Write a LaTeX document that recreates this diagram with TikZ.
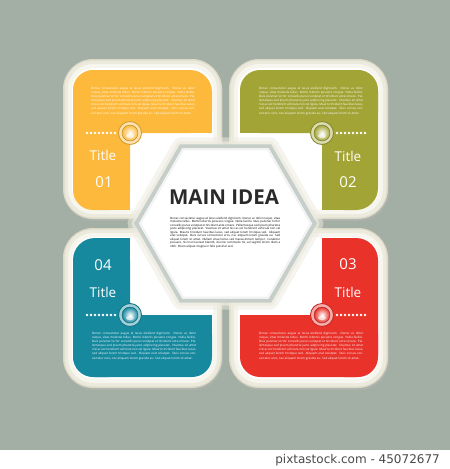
\documentclass[tikz,border=0pt]{standalone}
\usepackage{fontspec}
\setmainfont{Open Sans}
\newfontfamily\wmfont{DejaVu Sans}
\definecolor{bg}{HTML}{A3AEA4}
\definecolor{cream1}{HTML}{DCD9C7}
\definecolor{cream2}{HTML}{ECEADD}
\definecolor{cream3}{HTML}{F6F5EE}
\definecolor{cOr}{HTML}{FDB93B}
\definecolor{cOl}{HTML}{A3A436}
\definecolor{cBl}{HTML}{16899F}
\definecolor{cRe}{HTML}{E8322A}
\definecolor{hexgray}{HTML}{C5CEC8}
\definecolor{glow}{HTML}{EDEBDF}
\definecolor{darktext}{HTML}{2A2A2A}
\definecolor{wmgray}{HTML}{4A4A4A}
\newcommand\loremtxt{Donec consectetur augue at lacus eleifend dignissim. Donec ac dolor neque, vitae molestie tellus. Morbi lobortis posuere congue. Nulla facilisi. Duis pulvinar tortor convallis purus volutpat et tincidunt ante ornare. Pellentesque sed ipsum pharetra justo adipiscing placerat. Vivamus sit amet nisi ac est hendrerit vehicula non vel ligula. Mauris tincidunt faucibus lacus, sed aliquet lorem tristique sed. Aliquam erat volutpat. Duis cursus consectetur eros, nec aliquam lorem gravida eu. Sed aliquet lorem sit amet.}
\newcommand\loremlong{\loremtxt{} Nullam vitae lectus sed massa dictum tempor. Curabitur posuere, nisl non laoreet blandit, dui nisi commodo mi, vel sagittis lorem diam a nibh. Etiam aliquet magna in felis pulvinar sed.}
\tikzset{
  smalltxt/.style={anchor=north west, inner sep=0pt, text width=104pt, align=justify, text=white, font=\fontsize{3}{4.1}\selectfont},
  titletxt/.style={text=white, inner sep=0pt, font=\fontsize{13.5}{15}\selectfont},
  numtxt/.style={text=white, inner sep=0pt, font=\fontsize{15}{17}\selectfont},
  dotc/.style={fill=white},
}
\newcommand\gloss[3]{% name, center, colour
  \fill[#3!40!white] (#2) circle (11.5);
  \draw[#3!85!black, line width=0.9pt] (#2) circle (11.5);
  \shade[inner color=white, outer color=#3, draw=#3!70!black, line width=0.4pt] (#2) circle (8);
  \fill[white, opacity=0.6] ($(#2)+(0,3)$) ellipse (4 and 2.2);
  \node[circle, minimum size=23pt, inner sep=0pt] (#1) at (#2) {};
}
\usetikzlibrary{calc}
\begin{document}
\begin{tikzpicture}[x=1pt,y=-1pt]
\useasboundingbox (0,0) rectangle (450,469);
\fill[bg] (0,0) rectangle (450,450);
\fill[white] (0,450) rectangle (450,469);

% panels
\foreach \px/\py in {63/59, 229/59, 63/228, 229/228}{
  \fill[black!25, opacity=0.35, rounded corners=30] (\px+1,\py+2) rectangle ++(159,160);
  \fill[cream1, rounded corners=30] (\px,\py) rectangle ++(159,160);
  \fill[cream2, rounded corners=28] (\px+1.5,\py+1.5) rectangle ++(156,157);
  \fill[cream3, rounded corners=25] (\px+5,\py+5) rectangle ++(149,150);
  \fill[white, rounded corners=22] (\px+9,\py+9) rectangle ++(141,142);
}

% hexagon glow
\draw[glow, line width=18pt, opacity=0.5, line join=round]
  (314.5,223.5) -- (270,146.4) -- (181,146.4) -- (136.5,223.5) -- (181,300.6) -- (270,300.6) -- cycle;
\draw[glow, line width=10pt, opacity=0.7, line join=round]
  (314.5,223.5) -- (270,146.4) -- (181,146.4) -- (136.5,223.5) -- (181,300.6) -- (270,300.6) -- cycle;

% orange L
\fill[cOr, rounded corners=22] (73,70) rectangle (212,133);
\fill[cOr, rounded corners=20] (73,70) rectangle (130,210);
\fill[cOr] (190,113) rectangle (212,133);
\fill[cOr] (110,190) rectangle (130,210);
% olive L
\fill[cOl, rounded corners=20] (240,70) rectangle (378,133);
\fill[cOl, rounded corners=22] (322,70) rectangle (378,210);
\fill[cOl] (240,113) rectangle (262,133);
\fill[cOl] (322,190) rectangle (342,210);
% blue L
\fill[cBl, rounded corners=20] (73,315) rectangle (212,377);
\fill[cBl, rounded corners=22] (73,238) rectangle (130,377);
\fill[cBl] (190,315) rectangle (212,335);
\fill[cBl] (110,238) rectangle (130,258);
% red L
\fill[cRe, rounded corners=20] (240,315) rectangle (378,377);
\fill[cRe, rounded corners=22] (322,238) rectangle (378,377);
\fill[cRe] (240,315) rectangle (262,335);
\fill[cRe] (322,238) rectangle (342,258);

% hexagon
\filldraw[fill=white, draw=hexgray, line width=4pt, line join=miter]
  (314.5,223.5) -- (270,146.4) -- (181,146.4) -- (136.5,223.5) -- (181,300.6) -- (270,300.6) -- cycle;
\draw[black!5, line width=2pt]
  (311,223.5) -- (268,149.4) -- (183,149.4) -- (140,223.5) -- (183,297.6) -- (268,297.6) -- cycle;

\node[text=darktext, inner sep=0pt, font=\fontsize{20.5}{22}\selectfont\bfseries] (main) at (224,197) {MAIN IDEA};
\node[anchor=north west, inner sep=0pt, text width=110pt, align=justify, text=black, font=\fontsize{2.9}{3.5}\selectfont] (maintext) at (170,217) {\loremlong};

% small texts
\node[smalltxt] (t1) at (91,87) {\loremtxt};
\node[smalltxt] (t2) at (259,87) {\loremtxt};
\node[smalltxt] (t4) at (92,332) {\loremtxt};
\node[smalltxt] (t3) at (259,332) {\loremtxt};

% titles
\node[titletxt] (ti1) at (103,155) {Title};
\node[numtxt] (n1) at (104,182) {01};
\node[titletxt] (ti2) at (348,156) {Title};
\node[numtxt] (n2) at (348,182) {02};
\node[numtxt] (n4) at (103,265) {04};
\node[titletxt] (ti4) at (103,292) {Title};
\node[numtxt] (n3) at (348,264) {03};
\node[titletxt] (ti3) at (348,292) {Title};

% dots
\foreach \i in {0,...,7}{
  \fill[dotc] (87+4*\i,133) circle (1.4);
  \fill[dotc] (337+4*\i,133) circle (1.4);
  \fill[dotc] (87+4*\i,315) circle (1.4);
  \fill[dotc] (337+4*\i,315) circle (1.4);
}

% glossy circles
\gloss{c1}{130,133}{cOr}
\gloss{c2}{322,133}{cOl}
\gloss{c4}{130,315}{cBl}
\gloss{c3}{322,315}{cRe}

% watermark strip text
\node[anchor=east, inner sep=0pt, text=wmgray, font=\wmfont\fontsize{12}{14}\selectfont] (wm) at (440,460) {pixtastock.com - 45072677};
\end{tikzpicture}
\end{document}
